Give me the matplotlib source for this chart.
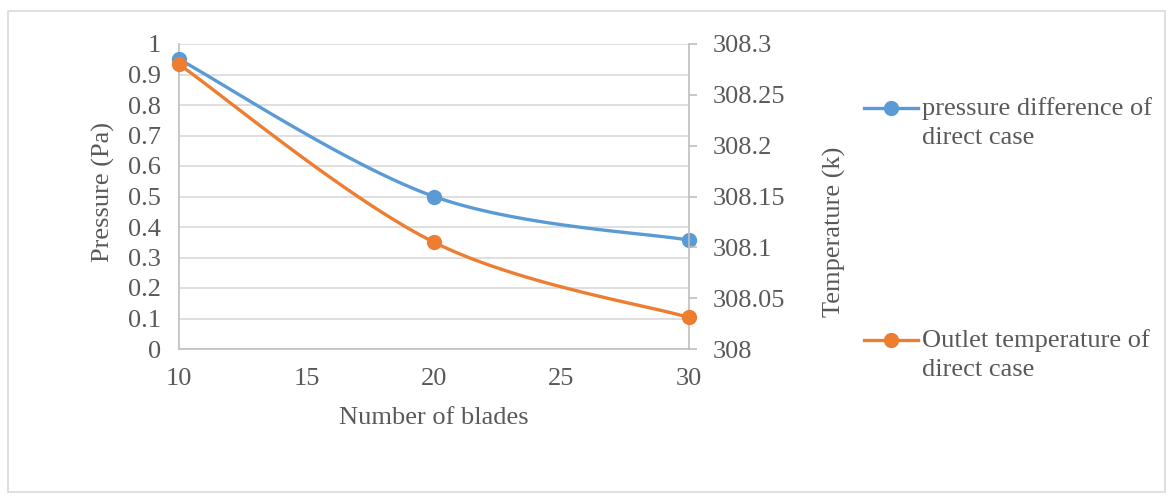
import numpy as np
import matplotlib
matplotlib.use("Agg")
import matplotlib.pyplot as plt
from matplotlib.lines import Line2D
from matplotlib.patches import Rectangle
from matplotlib.ticker import FuncFormatter, FixedLocator

# Data
blades = [10, 20, 30]
pressure_diff = [0.95, 0.50, 0.357]
outlet_temp = [308.28, 308.105, 308.031]

x_ticks = [10, 15, 20, 25, 30]
pressure_ticks = [0, 0.1, 0.2, 0.3, 0.4, 0.5, 0.6, 0.7, 0.8, 0.9, 1.0]
temp_ticks = [308, 308.05, 308.1, 308.15, 308.2, 308.25, 308.3]

series_labels = ["pressure difference of\ndirect case",
                 "Outlet temperature of\ndirect case"]

BLUE = "#5B9BD5"
ORANGE = "#ED7D31"
TEXT = "#595959"
GRID = "#D9D9D9"
SPINE = "#BFBFBF"

W, H = 1173, 497
plt.rcParams["font.family"] = "serif"
plt.rcParams["font.serif"] = ["Liberation Serif", "Times New Roman", "DejaVu Serif"]
FS = 19

fig = plt.figure(figsize=(W / 100, H / 100), dpi=100)

# outer chart-area frame
fig.patches.append(Rectangle((8 / W, 5 / H), (1165 - 8) / W, (489 - 8) / H,
                             transform=fig.transFigure, fill=False,
                             edgecolor=GRID, linewidth=1.2))

left, right, top, bottom = 179, 689, 44, 349
ax = fig.add_axes([left / W, 1 - bottom / H, (right - left) / W, (bottom - top) / H])
ax2 = ax.twinx()

xlim = (10, 30)
ylim1 = (0, 1.0)
ylim2 = (308, 308.3)
pw, ph = right - left, bottom - top


def smooth(xs, ys, ylim, n=60):
    """Bezier smoothing of a polyline, computed in plot-pixel space."""
    px = (np.asarray(xs, float) - xlim[0]) / (xlim[1] - xlim[0]) * pw
    py = (np.asarray(ys, float) - ylim[0]) / (ylim[1] - ylim[0]) * ph
    pts = np.column_stack([px, py])
    m = len(pts)
    out = []
    t = np.linspace(0, 1, n)[:, None]
    for i in range(m - 1):
        p0 = pts[max(i - 1, 0)]
        p1 = pts[i]
        p2 = pts[i + 1]
        p3 = pts[min(i + 2, m - 1)]
        c1 = p1 + (p2 - p0) / 6.0
        c2 = p2 - (p3 - p1) / 6.0
        seg = ((1 - t) ** 3) * p1 + 3 * ((1 - t) ** 2) * t * c1 \
            + 3 * (1 - t) * t ** 2 * c2 + t ** 3 * p2
        out.append(seg if i == 0 else seg[1:])
    out = np.vstack(out)
    sx = out[:, 0] / pw * (xlim[1] - xlim[0]) + xlim[0]
    sy = out[:, 1] / ph * (ylim[1] - ylim[0]) + ylim[0]
    return sx, sy


lw = 2.4
ms = 10

sx, sy = smooth(blades, pressure_diff, ylim1)
ax.plot(sx, sy, color=BLUE, lw=lw, solid_capstyle="round", zorder=3)
ax.plot(blades, pressure_diff, "o", color=BLUE, ms=ms, zorder=4, clip_on=False)

sx, sy = smooth(blades, outlet_temp, ylim2)
ax2.plot(sx, sy, color=ORANGE, lw=lw, solid_capstyle="round", zorder=3)
ax2.plot(blades, outlet_temp, "o", color=ORANGE, ms=ms, zorder=4, clip_on=False)

ax.set_xlim(*xlim)
ax.set_ylim(*ylim1)
ax2.set_ylim(*ylim2)

ax.xaxis.set_major_locator(FixedLocator(x_ticks))
ax.yaxis.set_major_locator(FixedLocator(pressure_ticks))
ax2.yaxis.set_major_locator(FixedLocator(temp_ticks))
fmt = FuncFormatter(lambda v, p: f"{v:g}")
ax.xaxis.set_major_formatter(fmt)
ax.yaxis.set_major_formatter(fmt)
ax2.yaxis.set_major_formatter(FuncFormatter(lambda v, p: f"{round(v, 2):g}"))

ax.grid(axis="y", color=GRID, lw=1.2)
ax.set_axisbelow(True)

for a in (ax, ax2):
    for s in a.spines.values():
        s.set_visible(False)
ax.spines["left"].set_visible(True)
ax.spines["left"].set_color(SPINE)
ax.spines["left"].set_linewidth(1.2)
ax.spines["bottom"].set_visible(True)
ax.spines["bottom"].set_color(SPINE)
ax.spines["bottom"].set_linewidth(1.2)
ax2.spines["right"].set_visible(True)
ax2.spines["right"].set_color(SPINE)
ax2.spines["right"].set_linewidth(1.2)

ax.tick_params(axis="x", length=0, pad=14, labelsize=FS, labelcolor=TEXT)
ax.tick_params(axis="y", length=0, pad=13, labelsize=FS, labelcolor=TEXT)
ax2.tick_params(axis="y", length=6, width=1.2, color=SPINE, direction="out",
                pad=11, labelsize=FS, labelcolor=TEXT)

# axis titles
fig.text(434 / W, 1 - 418 / H, "Number of blades", ha="center", va="center",
         fontsize=FS, color=TEXT)
fig.text(103 / W, 1 - 192 / H, "Pressure (Pa)", ha="center", va="center",
         rotation=90, fontsize=FS, color=TEXT)
fig.text(834 / W, 1 - 232 / H, "Temperature (k)", ha="center", va="center",
         rotation=90, fontsize=FS, color=TEXT)

# legend entries
for label, color, yc in [(series_labels[0], BLUE, 108), (series_labels[1], ORANGE, 340)]:
    fig.add_artist(Line2D([864 / W, 918 / W], [1 - yc / H, 1 - yc / H],
                          transform=fig.transFigure, color=color, lw=lw))
    fig.add_artist(Line2D([891 / W], [1 - yc / H], transform=fig.transFigure,
                          marker="o", color=color, ms=ms, lw=0))
    fig.text(922 / W, 1 - (yc - 11) / H, label, ha="left", va="top",
             fontsize=FS, color=TEXT, linespacing=1.4)

fig.savefig("out.png", dpi=100)
